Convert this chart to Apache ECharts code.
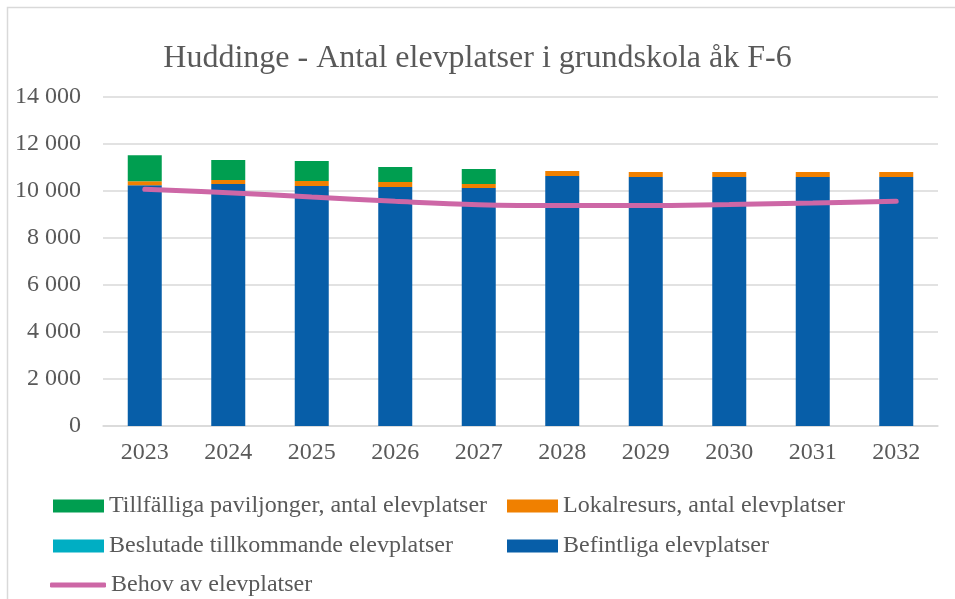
<!DOCTYPE html>
<html>
<head>
<meta charset="utf-8">
<script src="https://cdn.jsdelivr.net/npm/echarts@6/dist/echarts.min.js"></script>
<style>
html, body { margin: 0; padding: 0; background: #fff; }
#main { width: 955px; height: 599px; }
</style>
</head>
<body>
<div id="main"></div>
<script>
// data
var years = ['2023', '2024', '2025', '2026', '2027', '2028', '2029', '2030', '2031', '2032'];
var befintliga = [10250, 10300, 10210, 10170, 10130, 10640, 10600, 10600, 10600, 10600];
var beslutade = [0, 0, 0, 0, 0, 0, 0, 0, 0, 0];
var lokalresurs = [170, 170, 220, 210, 170, 210, 210, 210, 210, 210];
var tillfalliga = [1100, 850, 850, 640, 640, 0, 0, 0, 0, 0];
var behov = [10070, 9930, 9740, 9560, 9420, 9380, 9380, 9430, 9490, 9560];

var serif = '"Liberation Serif", "DejaVu Serif", serif';
var grey = '#595959';

var myChart = echarts.init(document.getElementById('main'));

// one legend per item so the two columns line up like in Excel
function oneLegend(name, left, centerY, isLine) {
    var h = isLine ? 5 : 13;
    return {
        data: [name],
        left: left,
        top: centerY - 12,
        height: 24,
        padding: 0,
        icon: isLine ? 'roundRect' : 'rect',
        itemWidth: isLine ? 56 : 51,
        itemHeight: h,
        textStyle: { fontFamily: serif, fontSize: 24, color: grey }
    };
}

var option = {
    backgroundColor: '#fff',
    animation: false,
    title: {
        text: 'Huddinge - Antal elevplatser i grundskola åk F-6',
        left: 'center',
        top: 43,
        padding: 0,
        textStyle: { fontFamily: serif, fontSize: 32, fontWeight: 'normal', color: grey }
    },
    graphic: [{
        type: 'rect',
        shape: { x: 7.5, y: 7.5, width: 970, height: 620 },
        style: { fill: 'none', stroke: '#d9d9d9', lineWidth: 1.5 },
        silent: true
    }],
    legend: [
        oneLegend('Tillfälliga paviljonger, antal elevplatser', 53, 506, false),
        oneLegend('Lokalresurs, antal elevplatser', 507, 506, false),
        oneLegend('Beslutade tillkommande elevplatser', 53, 546, false),
        oneLegend('Befintliga elevplatser', 507, 546, false),
        oneLegend('Behov av elevplatser', 50, 585, true)
    ],
    grid: { left: 103, right: 17, top: 97, bottom: 173, containLabel: false },
    xAxis: {
        type: 'category',
        data: years,
        axisLine: { lineStyle: { color: '#d9d9d9', width: 1.5 } },
        axisTick: { show: false },
        axisLabel: { fontFamily: serif, fontSize: 24, color: grey, margin: 15 }
    },
    yAxis: {
        type: 'value',
        min: 0,
        max: 14000,
        interval: 2000,
        axisLine: { show: false },
        axisTick: { show: false },
        splitLine: { lineStyle: { color: '#d9d9d9', width: 1.5 } },
        axisLabel: {
            fontFamily: serif, fontSize: 24, color: grey, margin: 22,
            formatter: function (v) {
                return String(v).replace(/\B(?=(\d{3})+(?!\d))/g, ' ');
            }
        }
    },
    series: [
        {
            name: 'Befintliga elevplatser', type: 'bar', stack: 'platser',
            barWidth: 34, data: befintliga, itemStyle: { color: '#075EA8' }
        },
        {
            name: 'Beslutade tillkommande elevplatser', type: 'bar', stack: 'platser',
            barWidth: 34, data: beslutade, itemStyle: { color: '#00AEC3' }
        },
        {
            name: 'Lokalresurs, antal elevplatser', type: 'bar', stack: 'platser',
            barWidth: 34, data: lokalresurs, itemStyle: { color: '#F08000' }
        },
        {
            name: 'Tillfälliga paviljonger, antal elevplatser', type: 'bar', stack: 'platser',
            barWidth: 34, data: tillfalliga, itemStyle: { color: '#009E50' }
        },
        {
            name: 'Behov av elevplatser', type: 'line', data: behov,
            smooth: 0.4, showSymbol: false, symbol: 'none',
            itemStyle: { color: '#CD67A6' },
            lineStyle: { color: '#CD67A6', width: 5, cap: 'round' },
            z: 5
        }
    ]
};

myChart.setOption(option);
</script>
</body>
</html>
